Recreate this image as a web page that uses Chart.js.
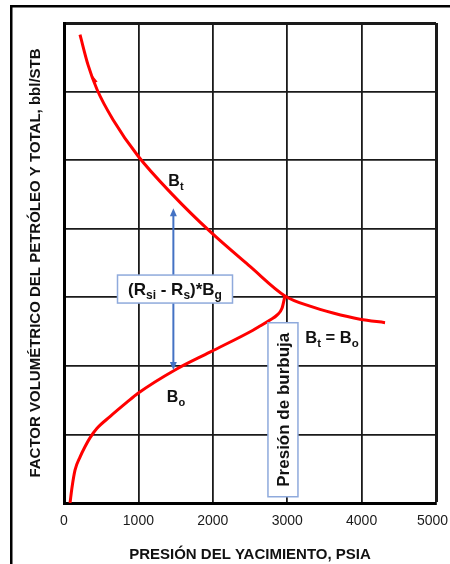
<!DOCTYPE html>
<html>
<head>
<meta charset="utf-8">
<script src="https://cdn.jsdelivr.net/npm/chart.js@4.4.0/dist/chart.umd.min.js"></script>
<style>
  html, body { margin: 0; padding: 0; background: #fff; }
  #wrap { position: relative; width: 450px; height: 564px; }
</style>
</head>
<body>
<div id="wrap"><canvas id="chart" width="450" height="564"></canvas></div>
<script>
// Reservoir pressure, psia
const pressureTicks = [0, 1000, 2000, 3000, 4000, 5000];

// Total formation volume factor Bt, bbl/STB
const btPressure = [215, 323, 444, 659, 995, 1465, 1962, 2500, 2970, 3306, 3616, 3978, 4315];
const btFactor   = [1.683, 1.639, 1.603, 1.559, 1.506, 1.449, 1.396, 1.345, 1.302, 1.287, 1.277, 1.268, 1.263];

// Oil formation volume factor Bo, bbl/STB
const boPressure = [81, 108, 148, 215, 282, 349, 444, 618, 847, 995, 1492, 1962, 2540, 2634, 2769, 2863, 2930, 2970];
const boFactor   = [1.000, 1.023, 1.048, 1.067, 1.082, 1.095, 1.109, 1.126, 1.147, 1.160, 1.194, 1.220, 1.252, 1.258, 1.267, 1.274, 1.284, 1.302];

// Gas term (Rsi - Rs)*Bg shown as the gap between both curves
const gapPressure = 1470;
const gapTop = 1.430;
const gapBottom = 1.194;

const FONT = "'Liberation Sans', Arial, Helvetica, sans-serif";
Chart.defaults.font.family = FONT;

function toPoints(xs, ys) {
  return xs.map((p, i) => ({ x: p, y: ys[i] }));
}

// Draws text made of normal and subscript runs, centred on (cx, cy)
function drawRich(ctx, parts, cx, cy, mainSize, subSize) {
  let total = 0;
  const widths = parts.map(p => {
    ctx.font = `bold ${p.sub ? subSize : mainSize}px ${FONT}`;
    const w = ctx.measureText(p.t).width;
    total += w;
    return w;
  });
  let xx = cx - total / 2;
  const base = cy + mainSize * 0.36;
  ctx.textAlign = 'left';
  ctx.textBaseline = 'alphabetic';
  parts.forEach((p, i) => {
    ctx.font = `bold ${p.sub ? subSize : mainSize}px ${FONT}`;
    ctx.fillText(p.t, xx, p.sub ? base + subSize * 0.32 : base);
    xx += widths[i];
  });
}

function arrowHead(ctx, x, y, dir) {
  ctx.beginPath();
  ctx.moveTo(x, y);
  ctx.lineTo(x - 3.5, y - dir * 8);
  ctx.lineTo(x + 3.5, y - dir * 8);
  ctx.closePath();
  ctx.fill();
}

// Outer frame of the figure
const framePlugin = {
  id: 'frame',
  beforeDraw(chart) {
    const ctx = chart.ctx;
    ctx.save();
    ctx.fillStyle = '#fff';
    ctx.fillRect(0, 0, chart.width, chart.height);
    ctx.strokeStyle = '#000';
    ctx.lineWidth = 2.5;
    ctx.beginPath();
    ctx.moveTo(11.25, chart.height);
    ctx.lineTo(11.25, 6.25);
    ctx.lineTo(chart.width, 6.25);
    ctx.stroke();
    ctx.restore();
  }
};

// Labels, boxes and the gap arrow
const notesPlugin = {
  id: 'notes',
  afterDatasetsDraw(chart) {
    const ctx = chart.ctx;
    const xs = chart.scales.x, ys = chart.scales.y;
    const px = v => xs.getPixelForValue(v);
    const py = v => ys.getPixelForValue(v);
    ctx.save();

    // small direction barb on the Bt curve
    const ax = px(btPressure[1]), ay = py(btFactor[1]);
    const bx = px(btPressure[2]), by = py(btFactor[2]);
    let dx = ax - bx, dy = ay - by;
    const len = Math.hypot(dx, dy); dx /= len; dy /= len;
    const tx = (ax + bx) / 2 + dx * 3, tyy = (ay + by) / 2 + dy * 3;
    ctx.fillStyle = '#ff0000';
    ctx.beginPath();
    ctx.moveTo(tx, tyy);
    ctx.lineTo(tx - dx * 9 - dy * 3.2, tyy - dy * 9 + dx * 3.2);
    ctx.lineTo(tx - dx * 9, tyy - dy * 9);
    ctx.closePath();
    ctx.fill();

    // vertical double arrow between the curves
    const gx = px(gapPressure);
    const gTop = py(gapTop), gBot = py(gapBottom);
    ctx.strokeStyle = '#4472C4';
    ctx.fillStyle = '#4472C4';
    ctx.lineWidth = 2;
    ctx.beginPath();
    ctx.moveTo(gx, gTop + 6);
    ctx.lineTo(gx, gBot - 6);
    ctx.stroke();
    arrowHead(ctx, gx, gTop, -1);
    arrowHead(ctx, gx, gBot, 1);

    // (Rsi - Rs)*Bg box
    const rcx = px(1492), rcy = py(1.312);
    ctx.fillStyle = '#fff';
    ctx.fillRect(rcx - 57.5, rcy - 14, 115, 28);
    ctx.strokeStyle = '#8FAADC';
    ctx.lineWidth = 1.5;
    ctx.strokeRect(rcx - 57.5, rcy - 14, 115, 28);
    ctx.fillStyle = '#111';
    drawRich(ctx, [
      { t: '(R' }, { t: 'si', sub: true }, { t: ' - R' }, { t: 's', sub: true },
      { t: ')*B' }, { t: 'g', sub: true }
    ], rcx, rcy, 17, 12);

    // bubble point box, vertical text
    const bcx = px(2943), bcy = py(1.136);
    ctx.save();
    ctx.translate(bcx, bcy);
    ctx.rotate(-Math.PI / 2);
    ctx.fillStyle = '#fff';
    ctx.fillRect(-87, -15, 174, 30);
    ctx.strokeStyle = '#8FAADC';
    ctx.lineWidth = 1.5;
    ctx.strokeRect(-87, -15, 174, 30);
    ctx.fillStyle = '#111';
    ctx.font = `bold 17px ${FONT}`;
    ctx.textAlign = 'center';
    ctx.textBaseline = 'alphabetic';
    ctx.fillText('Presión de burbuja', 0, 6);
    ctx.restore();

    // curve labels
    ctx.fillStyle = '#111';
    drawRich(ctx, [{ t: 'B' }, { t: 't', sub: true }], px(1505), py(1.470), 16, 11);
    drawRich(ctx, [{ t: 'B' }, { t: 'o', sub: true }], px(1505), py(1.155), 16, 11);
    drawRich(ctx, [{ t: 'B' }, { t: 't', sub: true }, { t: ' = B' }, { t: 'o', sub: true }],
      px(3602), py(1.242), 16.5, 11.5);

    ctx.restore();
  }
};

new Chart(document.getElementById('chart'), {
  type: 'line',
  data: {
    datasets: [
      {
        label: 'Bt',
        data: toPoints(btPressure, btFactor),
        borderColor: '#ff0000',
        borderWidth: 3,
        pointRadius: 0,
        fill: false,
        cubicInterpolationMode: 'monotone'
      },
      {
        label: 'Bo',
        data: toPoints(boPressure, boFactor),
        borderColor: '#ff0000',
        borderWidth: 3,
        pointRadius: 0,
        fill: false,
        cubicInterpolationMode: 'monotone'
      }
    ]
  },
  options: {
    responsive: false,
    animation: false,
    devicePixelRatio: 1,
    layout: { padding: { top: 23, right: 14, bottom: 0, left: 0 } },
    plugins: { legend: { display: false }, tooltip: { enabled: false } },
    scales: {
      x: {
        type: 'linear',
        min: 0,
        max: 5000,
        afterBuildTicks: s => { s.ticks = pressureTicks.map(v => ({ value: v })); },
        ticks: {
          font: { size: 14 },
          color: '#1a1a1a',
          padding: 10,
          maxRotation: 0,
          // last label kept inside the figure edge
          callback: (v, i) => (i === pressureTicks.length - 1 ? String(v) + '\u2002' : String(v))
        },
        grid: {
          color: '#1a1a1a',
          lineWidth: c => (c.index === pressureTicks.length - 1 ? 3 : 1.8),
          drawTicks: false
        },
        border: { display: true, color: '#000', width: 3 },
        title: {
          display: true,
          text: 'PRESIÓN DEL YACIMIENTO, PSIA',
          color: '#111',
          font: { size: 15, weight: 'bold' },
          padding: { top: 14, bottom: 0 }
        },
        afterFit: s => { s.height = 61; s.paddingLeft = 0; s.paddingRight = 0; }
      },
      y: {
        min: 1.0,
        max: 1.7,
        ticks: { display: false, stepSize: 0.1 },
        grid: {
          color: '#1a1a1a',
          lineWidth: c => (c.index === 7 ? 3 : 1.8),
          drawTicks: false
        },
        border: { display: true, color: '#000', width: 3 },
        title: {
          display: true,
          text: 'FACTOR VOLUMÉTRICO DEL PETRÓLEO Y TOTAL, bbl/STB',
          color: '#111',
          font: { size: 15, weight: 'bold' },
          padding: { top: 27, bottom: 0 }
        },
        afterFit: s => { s.width = 64; }
      }
    }
  },
  plugins: [framePlugin, notesPlugin]
});
</script>
</body>
</html>
